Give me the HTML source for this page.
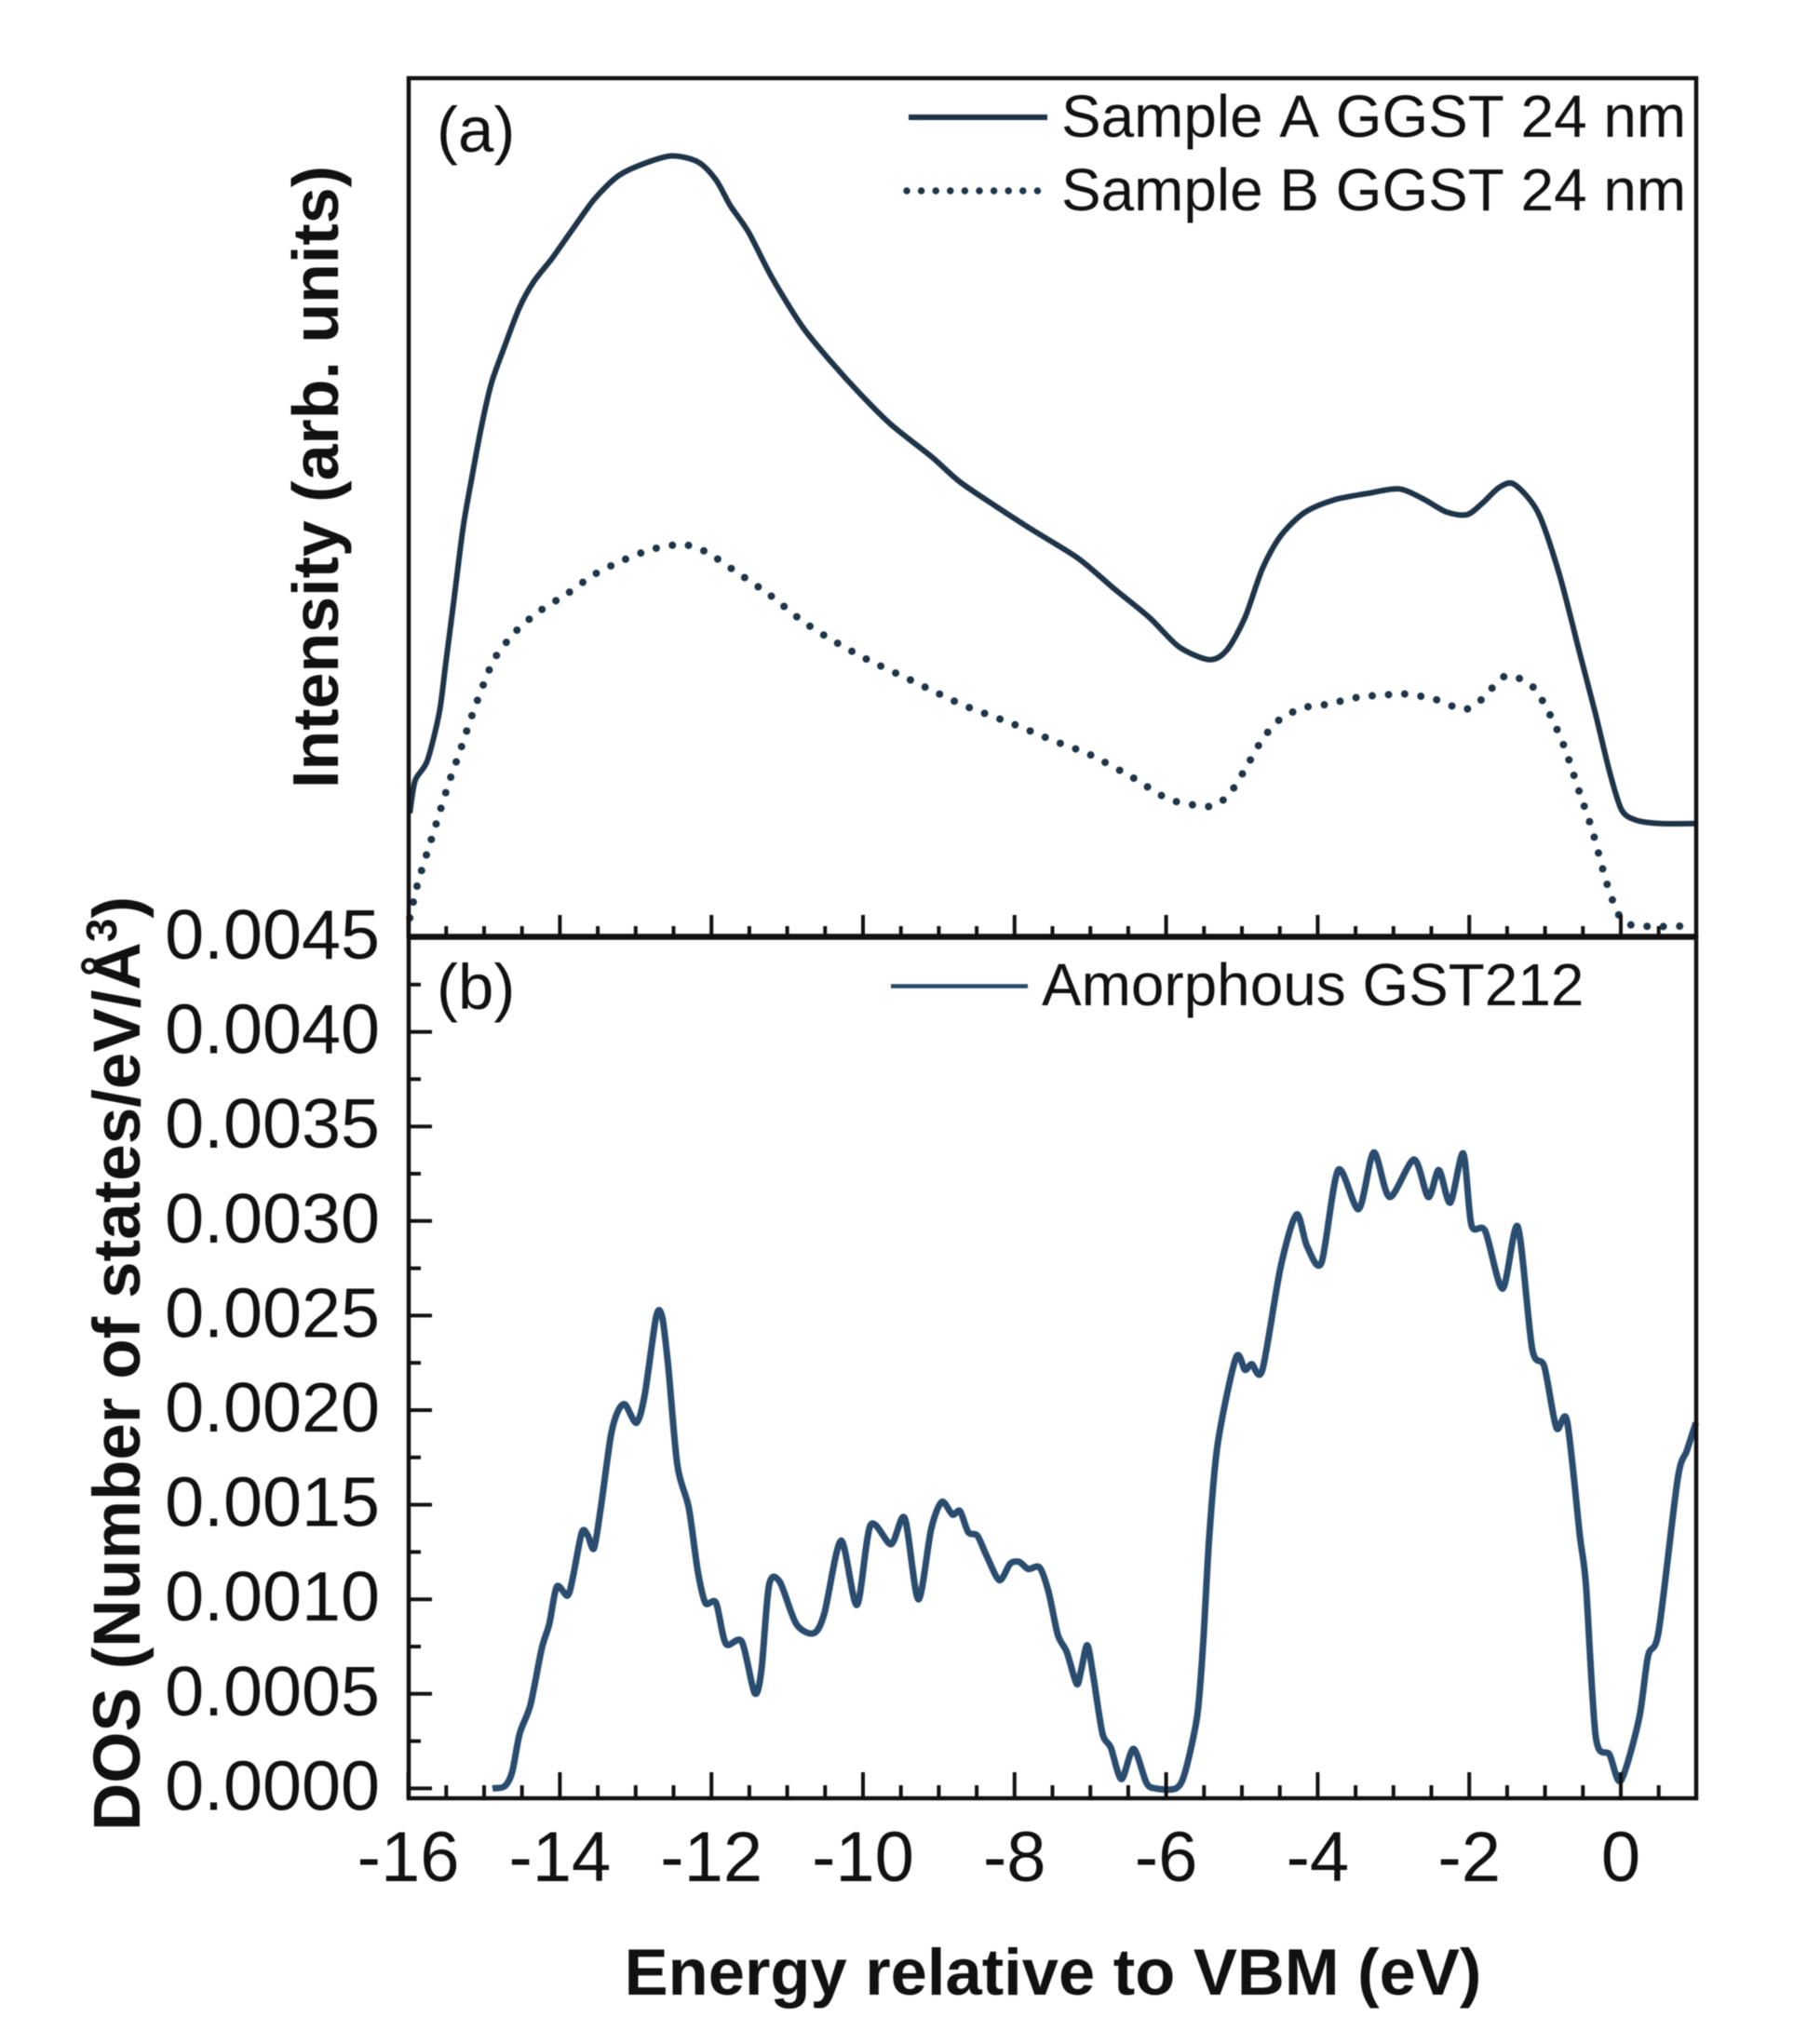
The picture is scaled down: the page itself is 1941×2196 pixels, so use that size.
<!DOCTYPE html>
<html lang="en">
<head>
<meta charset="utf-8">
<title>Valence band spectra and density of states</title>
<style>
html,body{margin:0;padding:0;background:#fff;}
svg{display:block;filter:blur(0.6px);}
text{font-family:"Liberation Sans",Arial,sans-serif;fill:#111;font-kerning:none;}
</style>
</head>
<body>
<svg id="chart" xmlns="http://www.w3.org/2000/svg" width="1941" height="2196" viewBox="0 0 1941 2196">
  <rect x="0" y="0" width="1941" height="2196" fill="#fff"/>
  <g id="series"></g>
  <g id="ticks"></g>
  <rect x="439" y="84" width="1383" height="922.5" fill="none" stroke="#111" stroke-width="4.5"/>
  <rect x="439" y="1006.5" width="1383" height="925.5" fill="none" stroke="#111" stroke-width="4.5"/>
  <line x1="437" x2="1824" y1="1006.5" y2="1006.5" stroke="#111" stroke-width="6.5"/>

  <text x="469" y="163" font-size="69">(a)</text>
  <text x="469" y="1084" font-size="69">(b)</text>

  <line x1="976" x2="1125" y1="126" y2="126" stroke="#1e3448" stroke-width="6"/>
  <text x="1140" y="147" font-size="63.9">Sample A GGST 24 nm</text>
  <line x1="974" x2="1116" y1="205" y2="205" stroke="#1e3448" stroke-width="7.5" stroke-linecap="round" stroke-dasharray="0 15.6"/>
  <text x="1140" y="226" font-size="63.9">Sample B GGST 24 nm</text>
  <line x1="957" x2="1104" y1="1059.5" y2="1059.5" stroke="#2a4a6b" stroke-width="4.5"/>
  <text x="1119" y="1080" font-size="63.9">Amorphous GST212</text>

  <text transform="translate(363,847) rotate(-90)" font-size="70" font-weight="bold">Intensity (arb. units)</text>
  <text transform="translate(150,1967) rotate(-90)" font-size="71" font-weight="bold">DOS (Number of states/eV/Å<tspan font-size="46" dy="-25">3</tspan><tspan dy="25">)</tspan></text>
  <text x="1131" y="2143" font-size="70.5" font-weight="bold" text-anchor="middle">Energy relative to VBM (eV)</text>
  <g id="tick-labels"></g>
</svg>
<script>
const energyA = [-15.98,-15.91,-15.75,-15.59,-15.50,-15.40,-15.28,-15.16,-15.03,-14.90,-14.73,-14.53,-14.34,-14.10,-13.86,-13.55,-13.24,-12.92,-12.53,-12.18,-11.94,-11.75,-11.51,-11.20,-10.80,-10.41,-10.02,-9.63,-9.09,-8.72,-8.25,-7.78,-7.16,-6.69,-6.22,-5.83,-5.43,-5.20,-4.96,-4.73,-4.49,-4.18,-3.79,-3.32,-2.93,-2.62,-2.30,-2.03,-1.83,-1.60,-1.40,-1.09,-0.81,-0.54,-0.34,-0.15,0.01,0.20,0.52,0.99];
const intensityA = [14.4,18.2,20.5,26.2,32.3,39.1,47.5,53.6,59.7,64.6,68.8,73.4,76.4,79.1,82.1,85.9,88.6,90.0,91.0,90.3,88.2,85.2,82.1,76.8,71.1,66.9,63.1,59.7,55.9,53.0,50.2,47.5,44.1,40.6,37.2,33.8,32.3,33.4,37.2,42.9,46.7,49.4,50.9,51.7,52.2,51.1,49.5,49.2,50.5,52.4,52.7,49.4,42.2,33.0,26.2,19.3,14.8,13.6,13.2,13.2];
const energyB = [-15.98,-15.87,-15.67,-15.47,-15.32,-15.16,-15.00,-14.85,-14.57,-14.26,-13.90,-13.55,-13.16,-12.77,-12.37,-12.06,-11.67,-11.24,-10.80,-10.41,-9.94,-9.39,-9.04,-8.65,-8.02,-7.47,-7.00,-6.45,-5.98,-5.59,-5.36,-5.16,-4.96,-4.73,-4.49,-4.18,-3.87,-3.48,-3.09,-2.85,-2.46,-2.07,-1.83,-1.52,-1.17,-0.93,-0.74,-0.54,-0.38,-0.19,-0.03,0.13,0.52,0.99];
const intensityB = [2.2,6.4,12.1,17.8,21.6,25.8,29.6,32.6,35.7,38.0,40.0,42.2,43.9,45.2,45.7,44.8,42.5,39.9,36.8,34.6,32.3,30.0,28.5,26.9,24.8,22.8,21.2,18.6,16.1,15.3,15.3,16.7,19.5,23.0,25.4,26.7,27.1,27.9,28.2,28.3,27.7,26.5,27.7,30.4,29.2,25.8,22.0,16.7,12.5,6.4,2.6,1.4,1.2,1.3];
const energyDos = [-14.89,-14.73,-14.63,-14.53,-14.39,-14.24,-14.14,-14.04,-13.90,-13.83,-13.71,-13.63,-13.55,-13.46,-13.33,-13.24,-13.14,-12.99,-12.88,-12.73,-12.65,-12.57,-12.45,-12.30,-12.18,-12.08,-11.94,-11.81,-11.60,-11.43,-11.34,-11.24,-11.10,-10.88,-10.65,-10.51,-10.29,-10.08,-9.90,-9.63,-9.45,-9.27,-9.10,-8.96,-8.82,-8.72,-8.61,-8.49,-8.37,-8.20,-8.06,-7.94,-7.82,-7.67,-7.55,-7.43,-7.31,-7.18,-7.12,-7.04,-6.96,-6.84,-6.73,-6.59,-6.43,-6.26,-6.14,-5.87,-5.75,-5.59,-5.51,-5.43,-5.32,-5.08,-4.96,-4.87,-4.73,-4.49,-4.28,-4.14,-3.95,-3.73,-3.46,-3.26,-3.05,-2.73,-2.54,-2.40,-2.25,-2.08,-1.97,-1.79,-1.56,-1.36,-1.17,-1.01,-0.85,-0.71,-0.54,-0.46,-0.33,-0.15,0,0.24,0.36,0.50,0.75,0.87,0.99];
const dosTimes1e4 = [0,0.11,0.86,2.91,4.40,7.39,8.69,10.67,10.19,11.12,13.54,13.36,12.69,14.85,18.58,19.89,20.30,19.33,20.82,24.93,24.93,22.31,17.09,14.85,11.49,9.81,9.81,7.65,7.76,5.04,6.27,10.75,10.93,8.69,8.21,9.25,13.10,9.70,13.92,12.91,14.29,10.0,13.73,15.15,14.48,14.66,13.54,13.36,12.31,11.01,11.87,11.98,11.60,11.68,10.37,8.13,7.20,5.52,6.27,7.57,5.90,2.91,2.16,0.49,2.09,0.30,0,0,0.86,3.84,7.76,13.36,18.21,22.76,22.13,22.43,22.13,27.54,30.34,28.66,27.80,32.69,30.63,33.62,31.27,33.25,31.27,32.69,30.97,33.58,29.78,29.48,26.42,29.70,23.25,22.31,19.07,19.44,13.36,10.75,2.72,1.79,0.41,3.66,7.01,8.32,16.34,17.84,19.33];
const xMajorTicks = [-16,-14,-12,-10,-8,-6,-4,-2,0];
const xMinorTicks = [-15.5,-15,-14.5,-13.5,-13,-12.5,-11.5,-11,-10.5,-9.5,-9,-8.5,-7.5,-7,-6.5,-5.5,-5,-4.5,-3.5,-3,-2.5,-1.5,-1,-0.5,0.5];
const yMajorTicks = [0,5,10,15,20,25,30,35,40];
const yMinorTicks = [2.5,7.5,12.5,17.5,22.5,27.5,32.5,37.5,42.5];
const yTickLabels = ["0.0000","0.0005","0.0010","0.0015","0.0020","0.0025","0.0030","0.0035","0.0040","0.0045"];

const NS = "http://www.w3.org/2000/svg";
const xAxis = e => 1741 + e * 81.4;
const yIntensity = v => 1006.5 - v * 9.22;
const yDos = d => 1921.4 - d * 20.32;

function smoothPath(xs, ys, xf, yf) {
  const p = xs.map((x, i) => [xf(x), yf(ys[i])]);
  let s = "M" + p[0][0].toFixed(1) + " " + p[0][1].toFixed(1);
  for (let i = 0; i < p.length - 1; i++) {
    const a = p[Math.max(i - 1, 0)], b = p[i], c = p[i + 1], d = p[Math.min(i + 2, p.length - 1)];
    const k = 0.14;
    s += " C" + (b[0] + (c[0] - a[0]) * k).toFixed(1) + " " + (b[1] + (c[1] - a[1]) * k).toFixed(1) +
         " " + (c[0] - (d[0] - b[0]) * k).toFixed(1) + " " + (c[1] - (d[1] - b[1]) * k).toFixed(1) +
         " " + c[0].toFixed(1) + " " + c[1].toFixed(1);
  }
  return s;
}

const seriesLayer = document.getElementById("series");
const tickLayer = document.getElementById("ticks");
const labelLayer = document.getElementById("tick-labels");

const lineA = document.createElementNS(NS, "path");


lineA.setAttribute("d", smoothPath(energyA, intensityA, xAxis, yIntensity));
lineA.setAttribute("fill", "none");
lineA.setAttribute("stroke", "#1e3448");
lineA.setAttribute("stroke-width", "6");
lineA.setAttribute("stroke-linejoin", "round");
seriesLayer.appendChild(lineA);

const lineB = document.createElementNS(NS, "path");


lineB.setAttribute("d", smoothPath(energyB, intensityB, xAxis, yIntensity));
lineB.setAttribute("fill", "none");
lineB.setAttribute("stroke", "#1e3448");
lineB.setAttribute("stroke-width", "8");
lineB.setAttribute("stroke-linecap", "round");
lineB.setAttribute("stroke-dasharray", "0 17.5");
seriesLayer.appendChild(lineB);

const lineDos = document.createElementNS(NS, "path");


lineDos.setAttribute("d", smoothPath(energyDos, dosTimes1e4, xAxis, yDos));
lineDos.setAttribute("fill", "none");
lineDos.setAttribute("stroke", "#2a4c6f");
lineDos.setAttribute("stroke-width", "7");
lineDos.setAttribute("stroke-linejoin", "round");
seriesLayer.appendChild(lineDos);

function tickLine(x1, y1, x2, y2) {
  const t = document.createElementNS(NS, "line");
  t.setAttribute("x1", x1);
  t.setAttribute("y1", y1);
  t.setAttribute("x2", x2);
  t.setAttribute("y2", y2);
  t.setAttribute("stroke", "#111");
  t.setAttribute("stroke-width", "4");
  tickLayer.appendChild(t);
  return t;
}

xMajorTicks.forEach(e => {
  const top = tickLine(xAxis(e), 1006, xAxis(e), 983);
  
  
  const bottom = tickLine(xAxis(e), 1932, xAxis(e), 1904);
  
  
  const label = document.createElementNS(NS, "text");
  
  
  label.setAttribute("x", xAxis(e));
  label.setAttribute("y", 2021);
  label.setAttribute("font-size", "76");
  label.setAttribute("text-anchor", "middle");
  label.textContent = String(e);
  labelLayer.appendChild(label);
});
xMinorTicks.forEach(e => {
  const top = tickLine(xAxis(e), 1006, xAxis(e), 995);
  
  
  const bottom = tickLine(xAxis(e), 1932, xAxis(e), 1918);
  
  
});
yMajorTicks.forEach(d => {
  const t = tickLine(439, yDos(d), 464, yDos(d));
  
  
});
yMinorTicks.forEach(d => {
  const t = tickLine(439, yDos(d), 452, yDos(d));
  
  
});
yTickLabels.forEach((txt, i) => {
  const label = document.createElementNS(NS, "text");
  
  
  label.setAttribute("x", 408);
  label.setAttribute("y", yDos(i * 5) + 23);
  label.setAttribute("font-size", "75.5");
  label.setAttribute("text-anchor", "end");
  label.textContent = txt;
  labelLayer.appendChild(label);
});
</script>
</body>
</html>
